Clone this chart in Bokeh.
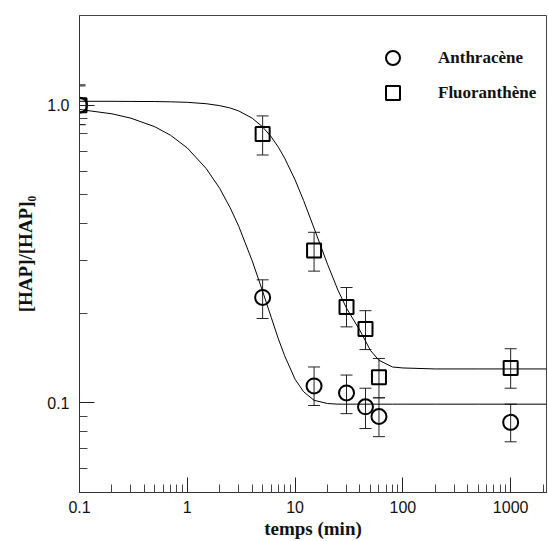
from bokeh.plotting import figure
from bokeh.models import (FixedTicker, CustomJSTickFormatter, Whisker, TeeHead,
                          ColumnDataSource, Legend, LegendItem)
from bokeh.embed import file_html
from bokeh.resources import INLINE

# ---- data ----
anth_t = [0.1, 5, 15, 30, 45, 60, 1000]
anth_y = [1.0, 0.226, 0.114, 0.108, 0.097, 0.090, 0.086]
anth_lo = [0.86, 0.192, 0.098, 0.092, 0.082, 0.077, 0.074]
anth_hi = [1.17, 0.259, 0.132, 0.124, 0.112, 0.104, 0.099]

fluo_t = [0.1, 5, 15, 30, 45, 60, 1000]
fluo_y = [1.0, 0.80, 0.325, 0.210, 0.177, 0.122, 0.131]
fluo_lo = [0.86, 0.68, 0.277, 0.180, 0.151, 0.104, 0.112]
fluo_hi = [1.16, 0.92, 0.374, 0.244, 0.204, 0.141, 0.152]

curve_t = [0.1, 0.2, 0.3, 0.5, 0.7, 1, 1.5, 2, 2.5, 3, 4, 5, 6, 7, 8, 10, 12, 15,
           20, 25, 30, 40, 50, 60, 80, 100, 200, 500, 2150]
anth_fit = [0.967, 0.935, 0.904, 0.846, 0.792, 0.718, 0.612, 0.525, 0.452, 0.392,
            0.300, 0.237, 0.194, 0.164, 0.144, 0.120, 0.109, 0.102, 0.0995, 0.099,
            0.099, 0.099, 0.099, 0.099, 0.099, 0.099, 0.099, 0.099, 0.099]
fluo_fit = [1.030, 1.030, 1.029, 1.028, 1.026, 1.022, 1.011, 0.996, 0.978, 0.956,
            0.904, 0.845, 0.783, 0.722, 0.664, 0.561, 0.478, 0.386, 0.292, 0.239,
            0.208, 0.175, 0.150, 0.139, 0.132, 0.131, 0.130, 0.130, 0.130]

x_major = [0.1, 1, 10, 100, 1000]
y_major = [0.1, 1.0]

p = figure(width=548, height=541, x_axis_type="log", y_axis_type="log",
           x_range=(0.1, 2150), y_range=(0.05, 2.0),
           output_backend="svg", toolbar_location=None,
           min_border_left=79, min_border_right=2, min_border_top=15,
           min_border_bottom=48)
p.xgrid.visible = False
p.ygrid.visible = False
p.outline_line_color = "#444444"
p.outline_line_width = 1
p.background_fill_color = "white"

x_minor = [k * 10.0 ** e for e in range(-1, 4) for k in range(2, 10) if k * 10.0 ** e <= 2150]
y_minor = [k * 10.0 ** e for e in (-2, -1, 0) for k in range(2, 10) if 0.05 < k * 10.0 ** e < 2]

p.xaxis.ticker = FixedTicker(ticks=x_major, minor_ticks=x_minor)
p.yaxis.ticker = FixedTicker(ticks=y_major, minor_ticks=y_minor)
p.xaxis.formatter = CustomJSTickFormatter(code="return tick < 1 ? tick.toFixed(1) : tick.toFixed(0);")
p.yaxis.formatter = CustomJSTickFormatter(code="return tick.toFixed(1);")

for ax in (p.xaxis[0], p.yaxis[0]):
    ax.major_tick_in = 15
    ax.major_tick_out = 0
    ax.minor_tick_in = 8
    ax.minor_tick_out = 0
    ax.axis_line_color = "#333333"
    ax.major_tick_line_color = "#222222"
    ax.minor_tick_line_color = "#444444"
    ax.major_label_text_font = "Liberation Sans"
    ax.major_label_text_font_size = "16px"
    ax.major_label_text_color = "#111111"
    ax.axis_label_text_font = "Liberation Serif"
    ax.axis_label_text_font_style = "bold"
    ax.axis_label_text_font_size = "19px"
    ax.axis_label_text_color = "#111111"

p.xaxis.axis_label = "temps (min)"
p.xaxis.major_label_standoff = 8
p.xaxis.axis_label_standoff = 2
p.yaxis.axis_label = "[HAP]/[HAP]\u2080"
p.yaxis.major_label_standoff = 10
p.yaxis.axis_label_standoff = 8

# fitted curves
p.line(curve_t, anth_fit, line_color="black", line_width=1)
p.line(curve_t, fluo_fit, line_color="black", line_width=1)

# error bars
src_a = ColumnDataSource(dict(x=anth_t, lo=anth_lo, hi=anth_hi))
src_f = ColumnDataSource(dict(x=fluo_t, lo=fluo_lo, hi=fluo_hi))
for src in (src_a, src_f):
    w = Whisker(base="x", lower="lo", upper="hi", source=src, dimension="height",
                line_color="#222222", line_width=1,
                upper_head=TeeHead(size=12, line_color="#222222", line_width=1),
                lower_head=TeeHead(size=12, line_color="#222222", line_width=1))
    p.add_layout(w)

r_a = p.scatter(anth_t, anth_y, marker="circle", size=15, fill_color=None,
                line_color="black", line_width=2)
r_f = p.scatter(fluo_t, fluo_y, marker="square", size=14, fill_color=None,
                line_color="black", line_width=2)

legend = Legend(items=[LegendItem(label="Anthracène", renderers=[r_a]),
                       LegendItem(label="Fluoranthène", renderers=[r_f])],
                location=(296, 382), padding=0, margin=0, spacing=-10,
                glyph_width=35, glyph_height=35, label_standoff=28,
                border_line_color=None, background_fill_alpha=0,
                label_text_font="Liberation Serif", label_text_font_style="bold",
                label_text_font_size="17px", label_text_color="#111111")
p.add_layout(legend)

open("out.html", "w").write(file_html(p, INLINE))
